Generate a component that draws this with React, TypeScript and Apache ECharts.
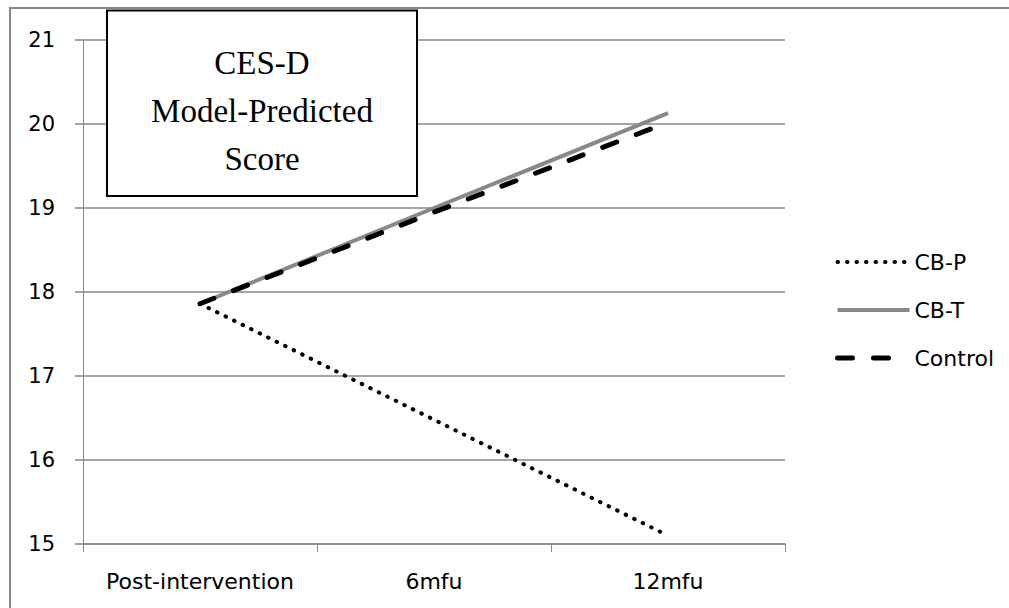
import React, { useEffect, useRef } from "react";
import * as echarts from "echarts";

const categories = ["Post-intervention", "6mfu", "12mfu"];
const cbP = [17.86, 16.48, 15.1];
const cbT = [17.86, 19.0, 20.13];
const control = [17.86, 18.95, 20.02];
const titleLines = ["CES-D", "Model-Predicted", "Score"];

const labelFont = "'DejaVu Sans', 'Open Sans', sans-serif";

export default function App() {
  const ref = useRef<HTMLDivElement>(null);
  useEffect(() => {
    const chart = echarts.init(ref.current!, null, { renderer: "svg" });
    chart.setOption({
      animation: false,
      backgroundColor: "#fff",
      grid: { left: 83, right: 224, top: 40, bottom: 64 },
      xAxis: {
        type: "category",
        data: categories,
        boundaryGap: true,
        axisLine: { show: true, lineStyle: { color: "#888", width: 1.5 } },
        axisTick: { show: true, interval: 0, length: 8, lineStyle: { color: "#888", width: 1 } },
        axisLabel: { interval: 0, margin: 26, fontSize: 22, color: "#000", fontFamily: labelFont },
        splitLine: { show: false },
      },
      yAxis: {
        type: "value",
        min: 15,
        max: 21,
        interval: 1,
        axisLine: { show: true, lineStyle: { color: "#888", width: 1 } },
        axisTick: { show: true, length: 8, lineStyle: { color: "#888", width: 1.5 } },
        axisLabel: { margin: 28, fontSize: 21, color: "#000", fontFamily: labelFont },
        splitLine: { show: true, lineStyle: { color: "#888", width: 1.5 } },
      },
      legend: {
        orient: "vertical",
        left: 830,
        top: 246,
        itemWidth: 72,
        itemHeight: 22,
        itemGap: 26,
        itemStyle: { opacity: 0 },
        textStyle: { fontSize: 22, color: "#000", fontFamily: labelFont },
        data: [
          { name: "CB-P", lineStyle: { width: 4, type: [0.5, 9], cap: "round" } },
          { name: "CB-T", lineStyle: { width: 4 } },
          { name: "Control", lineStyle: { width: 5, type: [15, 21], cap: "round" } },
        ],
      },
      series: [
        {
          name: "CB-P",
          type: "line",
          data: cbP,
          symbol: "none",
          lineStyle: { color: "#000", width: 4, type: [0.5, 9], cap: "round" },
          itemStyle: { color: "#000" },
        },
        {
          name: "CB-T",
          type: "line",
          data: cbT,
          symbol: "none",
          lineStyle: { color: "#888", width: 4 },
          itemStyle: { color: "#888" },
        },
        {
          name: "Control",
          type: "line",
          data: control,
          symbol: "none",
          lineStyle: { color: "#000", width: 5, type: [15, 21], cap: "round" },
          itemStyle: { color: "#000" },
        },
      ],
      graphic: [
        {
          type: "rect",
          z: 10,
          shape: { x: 10, y: 8, width: 1200, height: 1000 },
          style: { fill: "none", stroke: "#888", lineWidth: 2 },
          silent: true,
        },
        {
          type: "rect",
          z: 10,
          shape: { x: 107, y: 10.5, width: 310, height: 185.5 },
          style: { fill: "#fff", stroke: "#000", lineWidth: 2 },
        },
        ...titleLines.map((t, i) => ({
          type: "text",
          z: 11,
          x: 262,
          y: 63 + i * 48,
          style: {
            text: t,
            fill: "#000",
            font: "33px 'Liberation Serif', 'Times New Roman', serif",
            textAlign: "center",
            textVerticalAlign: "middle",
          },
        })),
      ],
    });
    return () => chart.dispose();
  }, []);
  return (
    <div
      ref={ref}
      style={{ position: "absolute", left: 0, top: 0, width: 1009, height: 608 }}
    />
  );
}
